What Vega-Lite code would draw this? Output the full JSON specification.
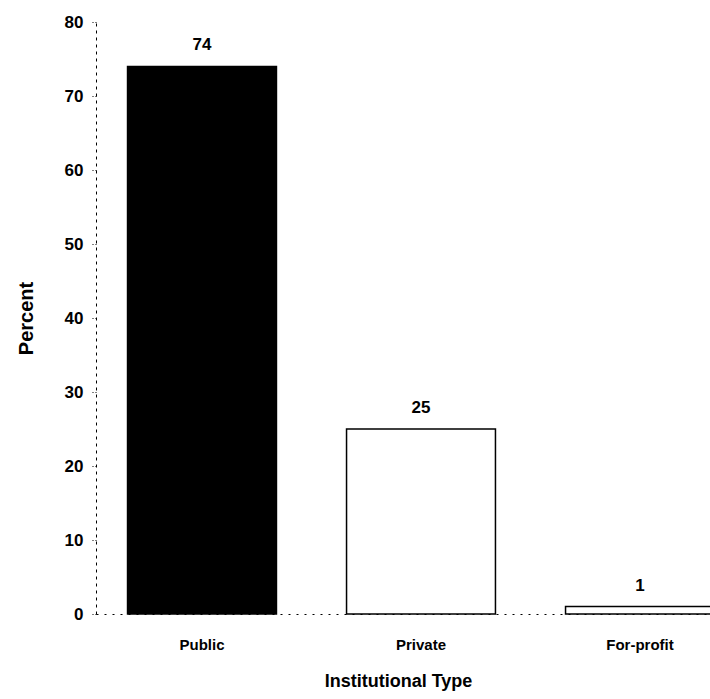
{
  "$schema": "https://vega.github.io/schema/vega-lite/v6.json",
  "autosize": "none",
  "padding": {"left": 96, "top": 22, "right": 0, "bottom": 85},
  "width": 650,
  "height": 592,
  "background": "white",
  "config": {
    "view": {"stroke": null},
    "font": "Liberation Sans"
  },
  "data": {
    "values": [
      {"type": "Public", "percent": 74},
      {"type": "Private", "percent": 25},
      {"type": "For-profit", "percent": 1}
    ]
  },
  "encoding": {
    "x": {
      "field": "type",
      "type": "nominal",
      "sort": ["Public", "Private", "For-profit"],
      "scale": {"paddingInner": 0.32, "paddingOuter": 0.144},
      "axis": {
        "title": "Institutional Type",
        "titleFont": "Liberation Sans",
        "titleFontSize": 18,
        "titleFontWeight": "bold",
        "titleColor": "black",
        "titleX": 302,
        "titlePadding": 20,
        "labelAngle": 0,
        "labelFont": "Liberation Sans",
        "labelFontSize": 15,
        "labelFontWeight": "bold",
        "labelColor": "black",
        "labelPadding": 23,
        "ticks": false,
        "domainColor": "black",
        "domainDash": [2, 6],
        "domainWidth": 1
      }
    },
    "y": {
      "field": "percent",
      "type": "quantitative",
      "scale": {"domain": [0, 80]},
      "axis": {
        "title": "Percent",
        "titleFont": "Liberation Sans",
        "titleFontSize": 20,
        "titleFontWeight": "bold",
        "titleColor": "black",
        "titlePadding": 28,
        "values": [0, 10, 20, 30, 40, 50, 60, 70, 80],
        "labelFont": "Liberation Sans",
        "labelFontSize": 17,
        "labelFontWeight": "bold",
        "labelColor": "black",
        "labelPadding": 9,
        "tickSize": 4,
        "tickColor": "black",
        "tickDash": [1, 2],
        "domainColor": "black",
        "domainDash": [3, 4],
        "domainWidth": 1,
        "grid": false
      }
    }
  },
  "layer": [
    {
      "mark": {"type": "bar", "stroke": "black", "strokeWidth": 1.5},
      "encoding": {
        "fill": {
          "field": "type",
          "type": "nominal",
          "scale": {"domain": ["Public", "Private", "For-profit"], "range": ["black", "white", "white"]},
          "legend": null
        }
      }
    },
    {
      "mark": {"type": "text", "baseline": "bottom", "dy": -12, "font": "Liberation Sans", "fontSize": 17, "fontWeight": "bold", "color": "black"},
      "encoding": {
        "text": {"field": "percent", "type": "quantitative"}
      }
    }
  ]
}
